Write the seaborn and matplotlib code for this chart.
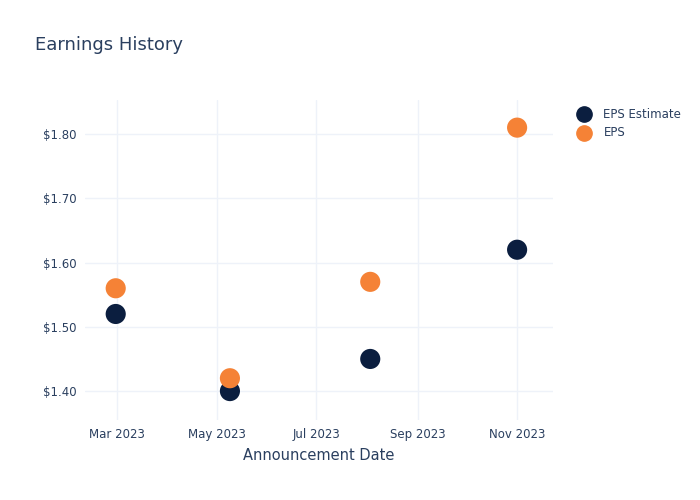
import matplotlib
matplotlib.use("Agg")
import matplotlib.pyplot as plt
import matplotlib.dates as mdates
import matplotlib.ticker as mticker
import seaborn as sns
import pandas as pd

dates = ["2023-02-28", "2023-05-09", "2023-08-03", "2023-11-01"]
eps_estimate = [1.52, 1.40, 1.45, 1.62]
eps_actual = [1.56, 1.42, 1.57, 1.81]
series_names = ["EPS Estimate", "EPS"]
colors = ["#0b1e3f", "#f58236"]

df = pd.DataFrame({
    "date": pd.to_datetime(dates * 2),
    "value": eps_estimate + eps_actual,
    "series": [series_names[0]] * 4 + [series_names[1]] * 4,
})

sns.set_style("white")
plt.rcParams['font.family'] = ['DejaVu Sans']
fig = plt.figure(figsize=(7, 5), dpi=100)
ax = fig.add_axes([0.121, 0.16, 0.669, 0.64])

sns.scatterplot(data=df, x="date", y="value", hue="series", palette=colors,
                s=210, edgecolor="none", ax=ax, legend=False, zorder=3)

ax.set_xlim(pd.Timestamp("2023-02-09"), pd.Timestamp("2023-11-23"))
ax.set_ylim(1.355, 1.853)
ax.set_yticks([1.4, 1.5, 1.6, 1.7, 1.8])
ax.yaxis.set_major_formatter(mticker.FuncFormatter(lambda v, p: f"${v:.2f}"))
ax.set_xticks(pd.to_datetime(["2023-03-01", "2023-05-01", "2023-07-01", "2023-09-01", "2023-11-01"]))
ax.xaxis.set_major_formatter(mdates.DateFormatter("%b %Y"))
ax.grid(True, color="#eef2f9", linewidth=1)
for s in ax.spines.values():
    s.set_visible(False)
ax.tick_params(axis="both", length=0, labelsize=8.5, colors="#2a3f5f", pad=6)
ax.set_xlabel("Announcement Date", fontsize=10.5, color="#2a3f5f", labelpad=5)
ax.set_ylabel("")

fig.text(0.05, 0.91, "Earnings History", fontsize=13, color="#2a3f5f", va="center")

# legend
for i, (name, c) in enumerate(zip(series_names, colors)):
    y = 0.772 - i * 0.038
    fig.lines.append(plt.Line2D([0.834], [y], transform=fig.transFigure, marker="o",
                                markersize=11, color=c, linestyle="none"))
    fig.text(0.862, y, name, fontsize=8.5, color="#2a3f5f", va="center")

fig.savefig("out.png", dpi=100)
